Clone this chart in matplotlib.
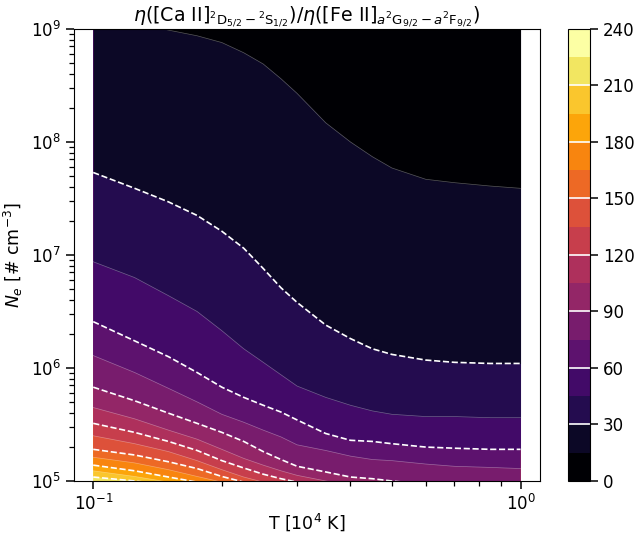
import numpy as np
import matplotlib
matplotlib.use("Agg")
import matplotlib.pyplot as plt
from matplotlib.colors import ListedColormap, BoundaryNorm
from matplotlib.cm import ScalarMappable

# temperature samples (1e4 K)
T = [0.1, 0.125, 0.15, 0.175, 0.2, 0.225, 0.25, 0.275, 0.3, 0.35,
     0.4, 0.45, 0.5, 0.6, 0.7, 0.85, 1.0]

# log10(Ne) where the ratio crosses each contour level, read at every T above
# (values below 5 or above 9 lie outside the plotted range)
ne_015 = [9.19, 9.06, 8.99, 8.94, 8.88, 8.79, 8.69, 8.56, 8.43, 8.17, 8.00, 7.87, 7.77, 7.67, 7.64, 7.61, 7.59]
ne_030 = [7.73, 7.59, 7.47, 7.35, 7.21, 7.06, 6.88, 6.71, 6.58, 6.38, 6.26, 6.17, 6.12, 6.07, 6.05, 6.04, 6.04]
ne_045 = [6.94, 6.80, 6.64, 6.50, 6.33, 6.17, 6.05, 5.94, 5.84, 5.74, 5.67, 5.62, 5.59, 5.57, 5.57, 5.56, 5.56]
ne_060 = [6.41, 6.24, 6.10, 5.96, 5.83, 5.74, 5.67, 5.61, 5.54, 5.42, 5.36, 5.35, 5.33, 5.30, 5.29, 5.28, 5.28]
ne_075 = [6.11, 5.96, 5.82, 5.70, 5.59, 5.52, 5.45, 5.39, 5.32, 5.27, 5.22, 5.19, 5.18, 5.15, 5.13, 5.12, 5.11]
ne_090 = [5.83, 5.71, 5.60, 5.51, 5.43, 5.35, 5.26, 5.19, 5.13, 5.08, 5.035, 5.02, 5.00, 4.97, 4.96, 4.94, 4.92]
ne_105 = [5.65, 5.55, 5.45, 5.37, 5.28, 5.20, 5.14, 5.09, 5.05, 5.00, 4.965, 4.94, 4.92, 4.89, 4.88, 4.86, 4.85]
ne_120 = [5.51, 5.43, 5.35, 5.27, 5.18, 5.115, 5.06, 5.02, 4.99, 4.96, 4.93, 4.91, 4.89, 4.87, 4.85, 4.83, 4.82]
ne_135 = [5.40, 5.33, 5.26, 5.18, 5.10, 5.035, 4.99, 4.96, 4.93, 4.89, 4.87, 4.85, 4.83, 4.81, 4.80, 4.78, 4.77]
ne_150 = [5.28, 5.23, 5.17, 5.11, 5.04, 4.99, 4.96, 4.93, 4.90, 4.87, 4.84, 4.82, 4.81, 4.79, 4.77, 4.75, 4.74]
ne_165 = [5.21, 5.16, 5.10, 5.04, 4.99, 4.96, 4.93, 4.90, 4.88, 4.85, 4.82, 4.81, 4.79, 4.77, 4.75, 4.73, 4.73]
ne_180 = [5.14, 5.09, 5.035, 4.99, 4.965, 4.94, 4.91, 4.89, 4.88, 4.84, 4.81, 4.80, 4.78, 4.76, 4.74, 4.73, 4.72]
ne_195 = [5.09, 5.04, 4.99, 4.96, 4.93, 4.91, 4.89, 4.88, 4.86, 4.83, 4.81, 4.79, 4.77, 4.75, 4.73, 4.72, 4.71]
ne_210 = [5.035, 5.00, 4.965, 4.94, 4.92, 4.90, 4.885, 4.87, 4.85, 4.82, 4.80, 4.78, 4.76, 4.74, 4.73, 4.71, 4.70]
ne_225 = [4.98, 4.95, 4.92, 4.90, 4.88, 4.86, 4.85, 4.84, 4.83, 4.80, 4.78, 4.76, 4.74, 4.72, 4.71, 4.69, 4.68]

levels = [0, 15, 30, 45, 60, 75, 90, 105, 120, 135, 150, 165, 180, 195, 210, 225, 240]
contours = [ne_015, ne_030, ne_045, ne_060, ne_075, ne_090, ne_105, ne_120,
            ne_135, ne_150, ne_165, ne_180, ne_195, ne_210, ne_225]
dashed_levels = [30, 60, 90, 120, 150, 180, 210]
cbar_ticks = [0, 30, 60, 90, 120, 150, 180, 210, 240]

plt.rcParams["font.size"] = 12

band_colors = plt.cm.inferno(np.linspace(0, 1, len(levels) - 1))
cmap = ListedColormap(band_colors)
norm = BoundaryNorm(levels, cmap.N)

fig = plt.figure(figsize=(6.38, 5.34), dpi=100)
ax = fig.add_axes([0.116, 0.0993, 0.730, 0.8464])
cax = fig.add_axes([0.890, 0.0993, 0.0345, 0.8464])

# painter's order: highest band first, each next band covers from its lower edge up
ax.fill_between(T, 1e4, 1e10, color=band_colors[-1], lw=0)
for i in range(len(contours) - 1, -1, -1):
    lower = 10 ** np.array(contours[i])
    ax.fill_between(T, lower, 1e10, color=band_colors[i], lw=0)

for lev, ne in zip(levels[1:-1], contours):
    if lev in dashed_levels:
        ax.plot(T, 10 ** np.array(ne), color="w", lw=1.2, ls="--")
    else:
        ax.plot(T, 10 ** np.array(ne), color="w", lw=0.5, alpha=0.35)

ax.set_xscale("log")
ax.set_yscale("log")
ax.set_xlim(0.1 / 10**0.045, 10**0.045)
ax.set_ylim(1e5, 1e9)
ax.set_xlabel(r"T [10$^4$ K]", fontsize=12.5, labelpad=-2)
ax.set_ylabel(r"$N_e$ [# cm$^{-3}$]", fontsize=12.5)
ax.set_title(r"$\eta([\mathrm{Ca\ II}]_{^2\mathrm{D}_{5/2}-{^2\mathrm{S}_{1/2}}})"
             r"/\eta([\mathrm{Fe\ II}]_{a^2\mathrm{G}_{9/2}-a^2\mathrm{F}_{9/2}})$",
             fontsize=13.7, pad=3)
ax.tick_params(which="major", length=6, width=1.1)
ax.tick_params(which="minor", length=3.5, width=0.9)

cbar = fig.colorbar(ScalarMappable(norm=norm, cmap=cmap), cax=cax, ticks=cbar_ticks)
cbar.minorticks_off()
for lv in dashed_levels:
    cax.axhline(lv, color="w", lw=1.2)
cax.tick_params(length=6, width=1.1)

plt.savefig("out.png", dpi=100)
plt.close("all")
